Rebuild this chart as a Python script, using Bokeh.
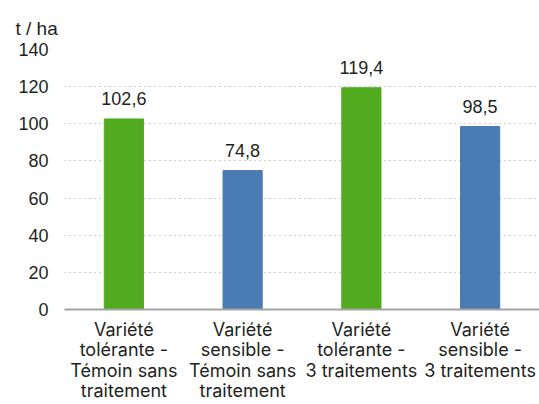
from bokeh.plotting import figure
from bokeh.models import ColumnDataSource, FactorRange, Range1d, SingleIntervalTicker, LabelSet
from bokeh.core.properties import value
from bokeh.embed import file_html
from bokeh.resources import INLINE

categories = [
    "Variété\ntolérante -\nTémoin sans\ntraitement",
    "Variété\nsensible -\nTémoin sans\ntraitement",
    "Variété\ntolérante -\n3 traitements",
    "Variété\nsensible -\n3 traitements",
]
values = [102.6, 74.8, 119.4, 98.5]
value_labels = ["102,6", "74,8", "119,4", "98,5"]
colors = ["#52ab1f", "#4a7bb3", "#52ab1f", "#4a7bb3"]
unit = "t / ha"

CAT_FONT = "Inter"
NUM_FONT = "Liberation Sans"
TXT = "#231f20"

src = ColumnDataSource(dict(cat=categories, val=values, lab=value_labels, col=colors))

p = figure(
    x_range=FactorRange(*categories, range_padding=0),
    y_range=Range1d(0, 140),
    width=539, height=404,
    output_backend="svg", toolbar_location=None,
    min_border_left=64, min_border_right=0, min_border_top=49, min_border_bottom=93,
    title=unit,
)
p.vbar(x="cat", top="val", width=0.33, color="col", source=src)

p.add_layout(LabelSet(x="cat", y="val", text="lab", source=src, text_align="center",
                      text_baseline="alphabetic", y_offset=14, text_font=value(NUM_FONT),
                      text_font_size="18px", text_color=TXT))

p.title.text_font = NUM_FONT
p.title.text_font_size = "19px"
p.title.text_font_style = "normal"
p.title.text_color = TXT
p.title.align = "left"
p.title.offset = -49
p.title.standoff = 21

p.background_fill_color = "white"
p.border_fill_color = "white"
p.outline_line_color = None

p.xgrid.grid_line_color = None
p.ygrid.grid_line_color = "#a0a0a0"
p.ygrid.grid_line_dash = "1 4"
p.ygrid.grid_line_width = 1

p.yaxis.ticker = SingleIntervalTicker(interval=20)
p.yaxis.axis_line_color = None
p.yaxis.major_tick_line_color = None
p.yaxis.minor_tick_line_color = None
p.yaxis.major_tick_out = 0
p.yaxis.major_tick_in = 0
p.yaxis.minor_tick_out = 0
p.yaxis.major_label_standoff = 16
p.yaxis.major_label_text_font = NUM_FONT
p.yaxis.major_label_text_font_size = "18px"
p.yaxis.major_label_text_color = TXT

p.xaxis.axis_line_color = "#a3a3a3"
p.xaxis.axis_line_width = 2
p.xaxis.major_tick_line_color = None
p.xaxis.minor_tick_line_color = None
p.xaxis.major_tick_out = 0
p.xaxis.major_tick_in = 0
p.xaxis.major_label_standoff = 9
p.xaxis.major_label_text_font = CAT_FONT
p.xaxis.major_label_text_font_size = "18px"
p.xaxis.major_label_text_color = TXT
p.xaxis.major_label_text_line_height = 0.98

open("out.html", "w").write(file_html(p, INLINE))
